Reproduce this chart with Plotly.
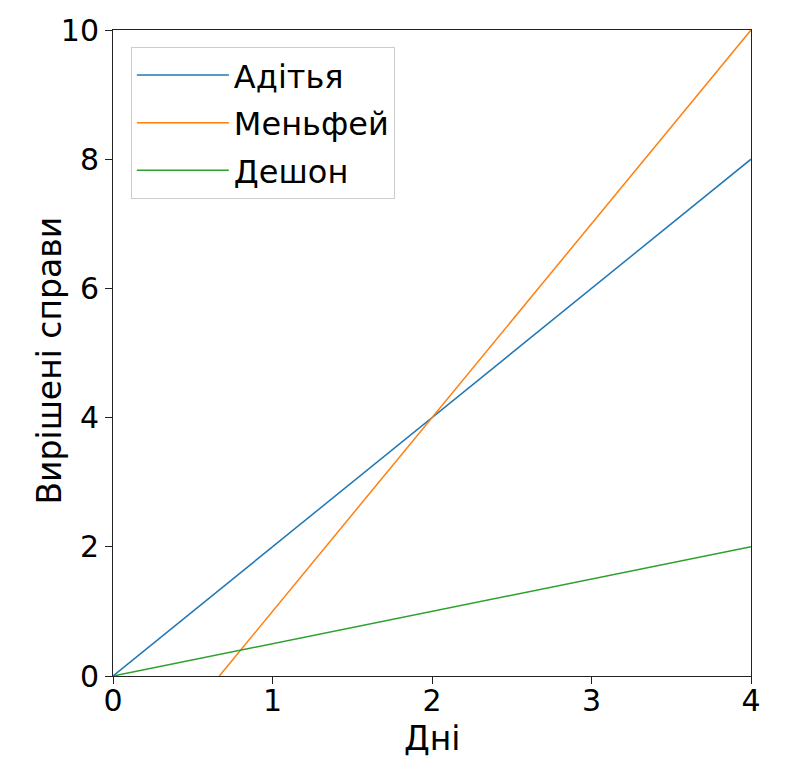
import plotly.graph_objects as go

# data
names = ["Адітья", "Меньфей", "Дешон"]
colors = ["#1f77b4", "#ff7f0e", "#2ca02c"]
aditya_x = [0, 4]
aditya_y = [0, 8]
menfei_x = [2 / 3, 4]
menfei_y = [0, 10]
deshon_x = [0, 4]
deshon_y = [0, 2]

series = [(aditya_x, aditya_y), (menfei_x, menfei_y), (deshon_x, deshon_y)]

fig = go.Figure()
for name, color, (xs, ys) in zip(names, colors, series):
    fig.add_trace(go.Scatter(x=xs, y=ys, mode="lines", name=name, legendgroup=name,
                             line=dict(color=color, width=1.5)))

axis_style = dict(
    showgrid=False, zeroline=False, automargin=False,
    showline=True, mirror=True, linecolor="#222", linewidth=1,
    ticks="outside", ticklen=7, tickwidth=1, tickcolor="#222",
    tickfont=dict(size=30, color="black"),
)

fig.update_xaxes(range=[0, 4], dtick=1, ticklabelstandoff=-9, **axis_style)
fig.update_yaxes(range=[0, 10], dtick=2, **axis_style)

# axis titles as annotations so they sit where matplotlib put them
title_font = dict(size=33, color="black")
fig.add_annotation(text="Дні", xref="paper", yref="paper", x=0.5, y=-0.097,
                   xanchor="center", yanchor="middle", showarrow=False, font=title_font)
fig.add_annotation(text="Вирішені справи", xref="paper", yref="paper", x=-0.0996, y=0.489,
                   xanchor="center", yanchor="middle", textangle=-90, showarrow=False, font=title_font)

fig.update_layout(
    width=785, height=769,
    margin=dict(l=105, r=42, t=22, b=101),
    paper_bgcolor="white", plot_bgcolor="white",
    font=dict(family="DejaVu Sans", color="black"),
    legend=dict(x=0.028, y=0.974, xanchor="left", yanchor="top",
                bgcolor="rgba(255,255,255,0.8)", bordercolor="#ccc", borderwidth=1,
                font=dict(size=32), itemwidth=92, traceorder="grouped", tracegroupgap=3),
)

fig.write_html("out.html")
